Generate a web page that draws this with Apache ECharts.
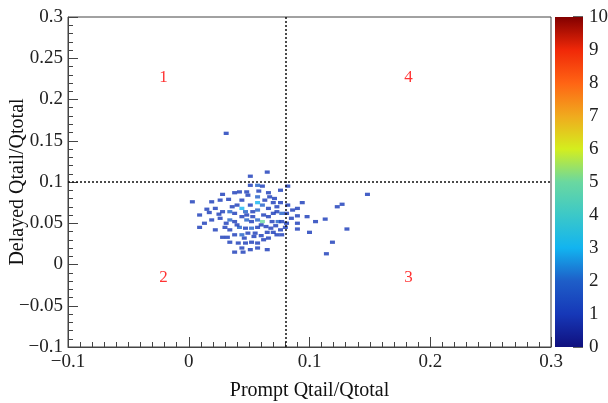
<!DOCTYPE html>
<html>
<head>
<meta charset="utf-8">
<script src="https://cdn.jsdelivr.net/npm/echarts@6/dist/echarts.min.js"></script>
<style>
  html, body { margin: 0; padding: 0; background: #fff; }
  #chart { width: 608px; height: 403px; }
</style>
</head>
<body>
<div id="chart"></div>
<script>
// filled histogram cells: [prompt Qtail/Qtotal, delayed Qtail/Qtotal, entries]
const cells = [
    [0.065, 0.112, 1], [0.051, 0.107, 1], [0.057, 0.096, 2], [0.061, 0.095, 1],
    [0.051, 0.096, 1], [0.082, 0.095, 1], [0.028, 0.085, 1], [0.048, 0.088, 1],
    [0.049, 0.084, 1], [0.038, 0.087, 1], [0.058, 0.089, 1], [0.066, 0.087, 1],
    [0.076, 0.090, 1], [0.003, 0.076, 1], [0.019, 0.076, 1], [0.033, 0.079, 1],
    [0.044, 0.078, 1], [0.057, 0.082, 2], [0.067, 0.082, 1], [0.051, 0.072, 1],
    [0.057, 0.075, 3], [0.061, 0.072, 2], [0.070, 0.075, 1], [0.076, 0.075, 1],
    [0.082, 0.072, 1], [0.094, 0.075, 1], [0.090, 0.068, 1], [0.123, 0.070, 1],
    [0.127, 0.073, 1], [0.148, 0.085, 1], [0.015, 0.067, 1], [0.022, 0.068, 1],
    [0.028, 0.064, 1], [0.034, 0.064, 2], [0.038, 0.062, 1], [0.044, 0.068, 3],
    [0.047, 0.064, 2], [0.053, 0.064, 1], [0.057, 0.066, 2], [0.066, 0.068, 1],
    [0.073, 0.064, 1], [0.077, 0.062, 2], [0.081, 0.062, 1], [0.098, 0.058, 1],
    [0.105, 0.052, 1], [0.113, 0.055, 1], [0.090, 0.059, 1], [0.019, 0.054, 1],
    [0.026, 0.056, 1], [0.034, 0.054, 2], [0.038, 0.052, 1], [0.048, 0.054, 2],
    [0.052, 0.052, 1], [0.057, 0.054, 2], [0.061, 0.052, 5], [0.069, 0.052, 1],
    [0.074, 0.052, 2], [0.077, 0.052, 1], [0.081, 0.050, 1], [0.090, 0.050, 1],
    [0.131, 0.043, 1], [0.100, 0.039, 1], [0.090, 0.043, 1], [0.009, 0.045, 1],
    [0.022, 0.042, 1], [0.030, 0.045, 1], [0.034, 0.042, 1], [0.042, 0.045, 2],
    [0.047, 0.044, 1], [0.052, 0.044, 2], [0.057, 0.045, 1], [0.065, 0.039, 1],
    [0.070, 0.039, 1], [0.076, 0.042, 1], [0.028, 0.033, 1], [0.032, 0.033, 1],
    [0.038, 0.036, 1], [0.044, 0.036, 2], [0.049, 0.038, 1], [0.055, 0.038, 1],
    [0.062, 0.030, 1], [0.066, 0.032, 1], [0.073, 0.036, 1], [0.077, 0.036, 1],
    [0.034, 0.027, 1], [0.041, 0.026, 1], [0.047, 0.026, 1], [0.052, 0.027, 1],
    [0.057, 0.026, 1], [0.044, 0.020, 1], [0.051, 0.018, 1], [0.038, 0.015, 1],
    [0.045, 0.015, 1], [0.057, 0.020, 1], [0.065, 0.018, 1], [0.119, 0.027, 1],
    [0.114, 0.013, 1], [0.031, 0.159, 1], [0.042, 0.088, 1], [0.026, 0.078, 1],
    [0.009, 0.060, 1], [0.013, 0.050, 1], [0.040, 0.072, 1], [0.036, 0.070, 1],
    [0.048, 0.060, 1], [0.053, 0.058, 1], [0.062, 0.060, 1], [0.066, 0.058, 1],
    [0.070, 0.062, 1], [0.044, 0.058, 1], [0.040, 0.048, 1], [0.060, 0.048, 1],
    [0.064, 0.046, 1], [0.068, 0.044, 1], [0.072, 0.047, 1], [0.054, 0.034, 1],
    [0.060, 0.035, 1], [0.080, 0.045, 1], [0.085, 0.056, 1], [0.086, 0.066, 1],
    [0.063, 0.078, 1], [0.071, 0.080, 1], [0.025, 0.061, 1], [0.017, 0.063, 1],
    [0.031, 0.050, 1], [0.046, 0.032, 1], [0.073, 0.070, 1]
];

// quadrant numbers
const regionLabels = [
    [-0.021, 0.227, '1'],
    [-0.021, -0.016, '2'],
    [0.182, -0.016, '3'],
    [0.182, 0.227, '4']
];

// cut lines
const cutPrompt = 0.077;
const cutDelayed = 0.095;

// z axis (entries) palette, from 0 up to 10
const zMax = 10;
const palette = ['#10107e', '#1638b8', '#1e5ec8', '#12b4f0', '#3cc8c8', '#6ad8a0',
                 '#d4ee1e', '#f0aa1e', '#ff6414', '#f02808', '#820000'];

const serif = '"Liberation Serif", "DejaVu Serif", serif';

const chart = echarts.init(document.getElementById('chart'));

const gradStops = palette.map((c, i) => ({ offset: 1 - i / (palette.length - 1), color: c }));

chart.setOption({
    animation: false,
    grid: [
        { left: 68, right: 57, top: 17, bottom: 56, show: true, borderColor: '#444', borderWidth: 1,
          outerBoundsMode: 'none', containLabel: false },
        { left: 555, width: 28, top: 17, bottom: 56, outerBoundsMode: 'none', containLabel: false }
    ],
    visualMap: {
        show: false,
        type: 'continuous',
        seriesIndex: 0,
        dimension: 2,
        min: 0,
        max: zMax,
        inRange: { color: palette }
    },
    xAxis: [
        {
            gridIndex: 0,
            type: 'value',
            min: -0.1,
            max: 0.3,
            interval: 0.1,
            name: 'Prompt Qtail/Qtotal',
            nameLocation: 'middle',
            nameGap: 34,
            nameMoveOverlap: false,
            nameTextStyle: { fontFamily: serif, fontSize: 20, color: '#111' },
            axisLine: { onZero: false, lineStyle: { color: '#444' } },
            axisTick: { inside: true, length: 10, lineStyle: { color: '#444' } },
            minorTick: { show: true, splitNumber: 10, length: 5, lineStyle: { color: '#444' } },
            splitLine: { show: false },
            axisLabel: { fontFamily: serif, fontSize: 19, color: '#222', margin: 6,
                         formatter: v => String(Math.round(v * 10) / 10).replace('-', '\u2212') }
        },
        {
            gridIndex: 1,
            type: 'category',
            data: ['z'],
            show: false
        }
    ],
    yAxis: [
        {
            gridIndex: 0,
            type: 'value',
            min: -0.1,
            max: 0.3,
            interval: 0.05,
            name: 'Delayed Qtail/Qtotal',
            nameLocation: 'middle',
            nameGap: 40,
            nameMoveOverlap: false,
            nameTextStyle: { fontFamily: serif, fontSize: 20, color: '#111' },
            axisLine: { onZero: false, lineStyle: { color: '#444' } },
            axisTick: { inside: true, length: 10, lineStyle: { color: '#444' } },
            minorTick: { show: true, splitNumber: 5, length: 5, lineStyle: { color: '#444' } },
            splitLine: { show: false },
            axisLabel: { fontFamily: serif, fontSize: 19, color: '#222', margin: 5,
                         formatter: v => String(Math.round(v * 100) / 100).replace('-', '\u2212') }
        },
        {
            gridIndex: 1,
            type: 'value',
            position: 'right',
            min: 0,
            max: zMax,
            interval: 1,
            axisLine: { show: false },
            axisTick: { show: true, inside: true, length: 10, lineStyle: { color: '#333', width: 1.5 } },
            splitLine: { show: false },
            axisLabel: { fontFamily: serif, fontSize: 19, color: '#222', margin: 6 }
        }
    ],
    series: [
        {
            type: 'scatter',
            xAxisIndex: 0,
            yAxisIndex: 0,
            symbol: 'rect',
            symbolSize: [5, 3.3],
            data: cells,
            z: 3,
            markLine: {
                silent: true,
                symbol: 'none',
                label: { show: false },
                lineStyle: { color: '#111', type: [2, 2], width: 1.5 },
                data: [{ xAxis: cutPrompt }, { yAxis: cutDelayed }]
            }
        },
        {
            type: 'scatter',
            xAxisIndex: 0,
            yAxisIndex: 0,
            symbolSize: 0,
            data: regionLabels,
            label: {
                show: true,
                position: 'inside',
                formatter: p => p.data[2],
                fontFamily: serif,
                fontSize: 17,
                color: '#ff0000'
            }
        },
        {
            type: 'bar',
            xAxisIndex: 1,
            yAxisIndex: 1,
            barWidth: '100%',
            data: [zMax],
            itemStyle: { color: new echarts.graphic.LinearGradient(0, 0, 0, 1, gradStops) }
        }
    ]
});
</script>
</body>
</html>
